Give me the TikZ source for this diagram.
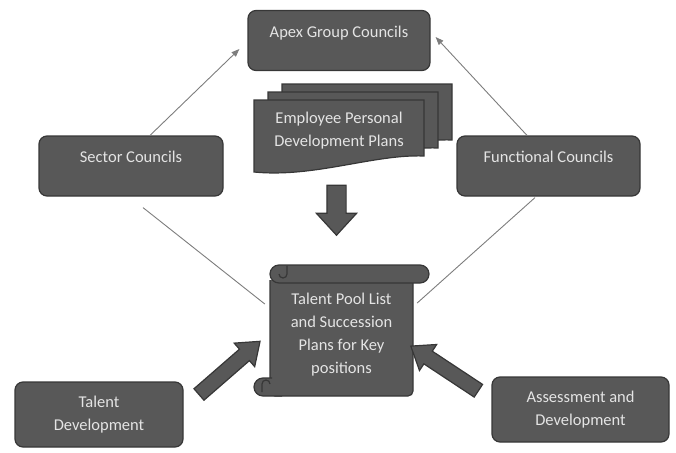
\documentclass[tikz,border=0pt]{standalone}
\usepackage{fontspec}
\setmainfont{Carlito}
\usetikzlibrary{shapes.arrows,arrows.meta,calc}
\definecolor{cBox}{RGB}{88,88,88}
\definecolor{cEdge}{RGB}{55,55,55}
\definecolor{cText}{RGB}{228,228,228}
\definecolor{cLine}{RGB}{125,125,125}
\tikzset{
  basebox/.style={rectangle,rounded corners=8pt,draw=cEdge,fill=cBox,
                  line width=1.2pt,text=cText,align=center,
                  font=\fontsize{16.5}{23}\selectfont},
  councilnode/.style={basebox,minimum height=60pt,
                      text height=11.5pt,text depth=18pt},
  sourcenode/.style={basebox,minimum height=65pt},
  txtnode/.style={text=cText,align=center,
                  font=\fontsize{16.5}{23}\selectfont},
  sheet/.style={draw=cEdge,fill=cBox,line width=1.2pt},
  thinarr/.style={-{Triangle[length=8pt,width=6pt]},color=cLine,line width=0.9pt},
  thinline/.style={color=cLine,line width=0.9pt},
  blockarr/.style={single arrow,draw=cEdge,fill=cBox,line width=1.2pt,
                   inner xsep=0pt,inner ysep=7pt,single arrow head extend=8pt,
                   single arrow tip angle=74,sloped,allow upside down,midway}
}
\begin{document}
\begin{tikzpicture}[x=1pt,y=-1pt]
  \useasboundingbox (0,0) rectangle (676,452);
  % stacked plans
  \draw[sheet,shift={(282,84)}] (0,0) -- (170,0) -- (170,56)
      .. controls (120,54) and (60,78) .. (0,72) -- cycle;
  \draw[sheet,shift={(268,92)}] (0,0) -- (170,0) -- (170,56)
      .. controls (120,54) and (60,78) .. (0,72) -- cycle;
  \draw[sheet,shift={(254,100)}] (0,0) -- (170,0) -- (170,56)
      .. controls (120,54) and (60,78) .. (0,72) -- cycle;
  % scroll
  \draw[sheet,rounded corners=5pt] (270,280) -- (270,396) -- (413,396) -- (413,280);
  \draw[sheet,rounded corners=9pt] (270,265) rectangle (429,283);
  \draw[sheet] (287,265.6) -- (287,274) arc[start angle=0,end angle=-180,radius=4pt];
  \draw[sheet] (272,378) -- (263,378) arc[start angle=90,end angle=270,radius=9pt]
      -- (282,396);
  \draw[sheet] (270,384) arc[start angle=0,end angle=180,radius=4pt] -- (262,392);

  \node[councilnode,minimum width=182pt] (apex) at (339,40.5) {Apex Group Councils};
  \node[councilnode,minimum width=184pt] (sec) at (131,166) {Sector Councils};
  \node[councilnode,minimum width=183pt] (fun) at (548.5,166) {Functional Councils};
  \node[txtnode,minimum width=170pt,minimum height=61pt] (docs) at (339,130.5)
      {Employee Personal\\Development Plans};
  \node[txtnode,minimum width=143pt,minimum height=122pt] (pool) at (341.5,335)
      {Talent Pool List\\and Succession\\Plans for Key\\positions};
  \node[sourcenode,minimum width=168pt] (tdev) at (99,414.5) {Talent\\Development};
  \node[sourcenode,minimum width=177pt] (asmt) at (580.5,409.5) {Assessment and\\Development};

  \draw[thinarr] ($(sec.north)+(19,0)$) -- ($(apex.west)+(-8,8.5)$);
  \draw[thinarr] ($(fun.north)+(-21.5,0)$) -- ($(apex.east)+(5,-3.5)$);
  \draw[thinline] ($(sec.south)+(12,11)$) -- ($(pool.west)+(-5,-31)$);
  \draw[thinline] ($(fun.south)+(-13.5,1)$) -- ($(pool.east)+(4,-32)$);

  \path ($(docs.south)+(-2.5,19)$) -- ($(pool.north)+(-5,-44)$)
      node[blockarr,minimum height=50pt,inner ysep=9pt,
           single arrow head extend=10.5pt,single arrow tip angle=85] (down) {};
  \path ($(tdev.north east)+(12,16)$) -- ($(pool.west)+(-14,10)$)
      node[blockarr,minimum height=81pt] (tdevarr) {};
  \path ($(asmt.north west)+(-9,17)$) -- ($(pool.east)+(2,14)$)
      node[blockarr,minimum height=81pt] (asmtarr) {};
\end{tikzpicture}
\end{document}
